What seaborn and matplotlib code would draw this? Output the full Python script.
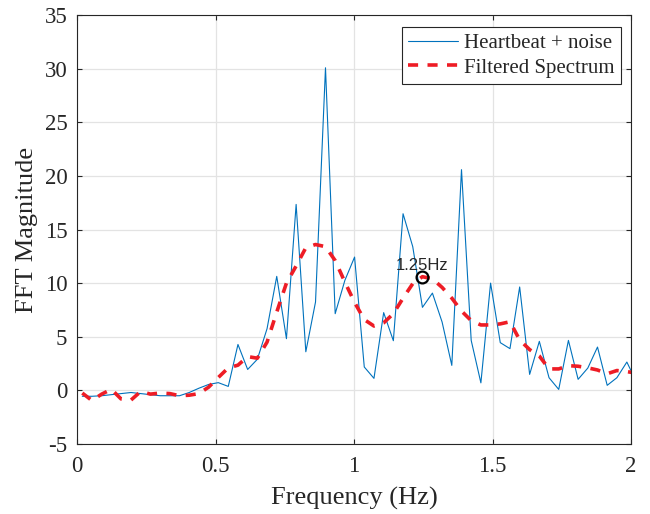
import numpy as np
import pandas as pd
import matplotlib
matplotlib.use("Agg")
import matplotlib.pyplot as plt
import seaborn as sns

# ---- data ----
freq = [0.019, 0.054, 0.089, 0.124, 0.159, 0.195, 0.230, 0.265, 0.300, 0.335,
        0.370, 0.405, 0.440, 0.475, 0.510, 0.546, 0.581, 0.616, 0.651, 0.686,
        0.721, 0.756, 0.791, 0.826, 0.861, 0.897, 0.932, 0.967, 1.002, 1.037,
        1.072, 1.107, 1.142, 1.177, 1.212, 1.247, 1.283, 1.318, 1.353, 1.388,
        1.423, 1.458, 1.493, 1.528, 1.563, 1.598, 1.634, 1.669, 1.704, 1.739,
        1.774, 1.809, 1.844, 1.879, 1.914, 1.949, 1.985, 2.020]

raw = [-0.55, -0.55, -0.5, -0.4, -0.3, -0.2, -0.3, -0.4, -0.5, -0.5,
       -0.5, -0.2, 0.2, 0.55, 0.72, 0.37, 4.28, 1.95, 2.9, 5.75,
       10.63, 4.82, 17.34, 3.6, 8.24, 30.08, 7.15, 10.26, 12.43, 2.18,
       1.12, 7.25, 4.63, 16.47, 13.4, 7.74, 9.07, 6.37, 2.33, 20.58,
       4.66, 0.7, 10.0, 4.45, 3.89, 9.64, 1.49, 4.57, 1.18, 0.09,
       4.66, 1.03, 2.08, 4.04, 0.47, 1.18, 2.64, 0.76]

filtered = [-0.25, -0.95, -0.35, 0.1, -0.8, -0.9, -0.1, -0.35, -0.25, -0.3,
            -0.5, -0.45, -0.3, 0.3, 1.2, 2.1, 2.35, 3.15, 3.0, 4.5,
            7.3, 10.0, 11.6, 13.3, 13.6, 13.4, 12.1, 10.1, 8.2, 6.6,
            6.0, 6.3, 7.15, 8.6, 9.95, 10.6, 10.4, 9.6, 8.6, 7.4,
            6.5, 6.1, 6.1, 6.2, 6.4, 4.7, 3.8, 3.2, 2.0, 2.0,
            2.3, 2.25, 2.1, 1.9, 1.55, 1.85, 1.75, 1.6]

peak_index = 35
peak_label = "1.25Hz"
x_ticks = [0, 0.5, 1, 1.5, 2]
x_tick_labels = ["0", "0.5", "1", "1.5", "2"]
y_ticks = [-5, 0, 5, 10, 15, 20, 25, 30, 35]
series_labels = ["Heartbeat + noise", "Filtered Spectrum"]

# ---- style ----
sns.set_theme(style="whitegrid")
plt.rcParams["font.family"] = ["Liberation Serif", "DejaVu Serif"]
plt.rcParams["axes.unicode_minus"] = False
plt.rcParams["axes.edgecolor"] = "#262626"
plt.rcParams["axes.linewidth"] = 0.8

df = pd.DataFrame({"freq": freq, "raw": raw, "filtered": filtered})

fig = plt.figure(figsize=(6.5, 5.14), dpi=100)
ax = fig.add_axes([0.1185, 0.1362, 0.8523, 0.8346])

sns.lineplot(data=df, x="freq", y="raw", ax=ax, color="#0072BD",
             linewidth=0.8, label=series_labels[0], sort=False)
sns.lineplot(data=df, x="freq", y="filtered", ax=ax, color="#EE1C25",
             linewidth=2.6, label=series_labels[1], sort=False)
ax.lines[1].set_dashes([2.8, 2.6])
ax.lines[1].set_dash_capstyle("butt")

# peak marker and annotation
ax.plot(freq[peak_index], filtered[peak_index], marker="o", markersize=8.5,
        markerfacecolor="none", markeredgecolor="black", markeredgewidth=1.6,
        linestyle="none")
ax.text(freq[peak_index], filtered[peak_index] + 0.3, peak_label,
        ha="center", va="bottom", fontsize=12, color="#262626",
        family=["Liberation Sans", "DejaVu Sans"])

ax.set_xlim(0, 2)
ax.set_ylim(-5, 35)
ax.set_xticks(x_ticks)
ax.set_xticklabels(x_tick_labels)
ax.set_yticks(y_ticks)

ax.grid(True, color="#E3E3E3", linewidth=0.9)
for s in ax.spines.values():
    s.set_visible(True)
    s.set_color("#262626")
    s.set_linewidth(0.8)

ax.tick_params(axis="both", which="both", direction="in", length=3.5,
               width=0.8, color="#262626", labelsize=16.5,
               labelcolor="#262626", top=True, right=True,
               bottom=True, left=True)
ax.tick_params(axis="x", pad=9)
ax.tick_params(axis="y", pad=7)

ax.set_xlabel("Frequency (Hz)", fontsize=19, color="#262626", labelpad=7)
ax.set_ylabel("FFT Magnitude", fontsize=19, color="#262626", labelpad=5)

leg = ax.legend(loc="upper right", bbox_to_anchor=(0.982, 0.972),
                borderaxespad=0, fontsize=15, frameon=True, fancybox=False,
                handlelength=2.4, handletextpad=0.3, labelspacing=0.25,
                borderpad=0.3)
leg.get_frame().set_edgecolor("#262626")
leg.get_frame().set_linewidth(0.8)
leg.get_frame().set_alpha(1)
for t in leg.get_texts():
    t.set_color("#262626")

fig.savefig("out.png", dpi=100)
